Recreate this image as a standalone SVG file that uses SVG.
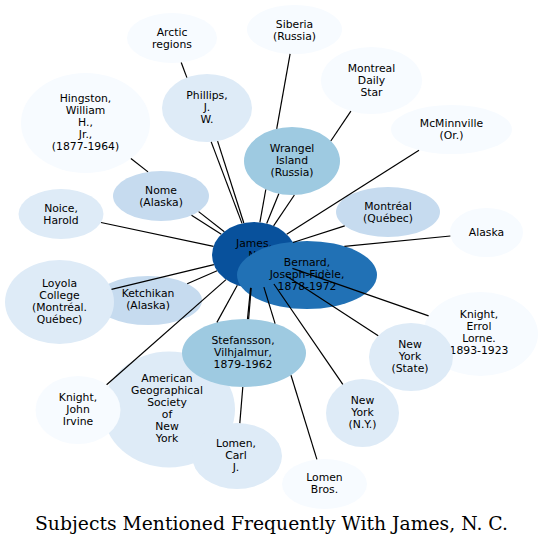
<svg xmlns="http://www.w3.org/2000/svg" width="543" height="545" viewBox="0 0 543 545">
<style>
.n text{font-family:"DejaVu Sans",sans-serif;font-size:10.8px;fill:#000;text-anchor:middle}
.c0{fill:#f7fbff}.c1{fill:#deebf7}.c2{fill:#c6dbef}.c3{fill:#9ecae1}.c4{fill:#2171b5}.c5{fill:#08519c}
#edges line{stroke:#000;stroke-width:1.2;fill:none}
.title{font-family:"DejaVu Serif",serif;font-size:18.7px;fill:#000;text-anchor:middle}
</style>
<rect width="543" height="545" fill="#fff"/>
<g class="n" id="arctic"><ellipse class="c0" cx="172" cy="38" rx="45" ry="25"/><text x="172" y="36">Arctic</text><text x="172" y="48">regions</text></g>
<g class="n" id="siberia"><ellipse class="c0" cx="294.5" cy="29.5" rx="47.5" ry="24.5"/><text x="294.5" y="27.5">Siberia</text><text x="294.5" y="39.5">(Russia)</text></g>
<g class="n" id="mds"><ellipse class="c0" cx="371.5" cy="80.5" rx="50.5" ry="33.5"/><text x="371.5" y="72">Montreal</text><text x="371.5" y="84">Daily</text><text x="371.5" y="96">Star</text></g>
<g class="n" id="mcminnville"><ellipse class="c0" cx="451.5" cy="129.5" rx="60.5" ry="24.5"/><text x="451.5" y="127">McMinnville</text><text x="451.5" y="139">(Or.)</text></g>
<g class="n" id="hingston"><ellipse class="c0" cx="85.5" cy="123" rx="64.5" ry="50"/><text x="85.5" y="102">Hingston,</text><text x="85.5" y="114">William</text><text x="85.5" y="126">H.,</text><text x="85.5" y="138">Jr.,</text><text x="85.5" y="150">(1877-1964)</text></g>
<g class="n" id="phillips"><ellipse class="c1" cx="207" cy="108" rx="45" ry="34"/><text x="207" y="99">Phillips,</text><text x="207" y="111">J.</text><text x="207" y="123">W.</text></g>
<g class="n" id="wrangel"><ellipse class="c3" cx="292" cy="161" rx="48" ry="34"/><text x="292" y="152">Wrangel</text><text x="292" y="164">Island</text><text x="292" y="176">(Russia)</text></g>
<g class="n" id="nome"><ellipse class="c2" cx="161" cy="196" rx="48" ry="25"/><text x="161" y="193.5">Nome</text><text x="161" y="205.5">(Alaska)</text></g>
<g class="n" id="noice"><ellipse class="c1" cx="61" cy="214" rx="42.5" ry="25"/><text x="61" y="211.5">Noice,</text><text x="61" y="223.5">Harold</text></g>
<g class="n" id="montreal"><ellipse class="c2" cx="388" cy="212" rx="52" ry="25"/><text x="388" y="209.5">Montréal</text><text x="388" y="221.5">(Québec)</text></g>
<g class="n" id="alaska"><ellipse class="c0" cx="486.5" cy="232.5" rx="36.5" ry="24.5"/><text x="486.5" y="236">Alaska</text></g>
<g class="n" id="ketchikan"><ellipse class="c2" cx="148" cy="300.5" rx="54" ry="24.5"/><text x="148" y="297">Ketchikan</text><text x="148" y="309">(Alaska)</text></g>
<g class="n" id="loyola"><ellipse class="c1" cx="59.5" cy="302" rx="54.5" ry="42"/><text x="59.5" y="287">Loyola</text><text x="59.5" y="299">College</text><text x="59.5" y="311">(Montréal.</text><text x="59.5" y="323">Québec)</text></g>
<g class="n" id="ags"><ellipse class="c1" cx="169" cy="409.5" rx="66" ry="58"/><text x="167" y="382">American</text><text x="167" y="394">Geographical</text><text x="167" y="406">Society</text><text x="167" y="418">of</text><text x="167" y="430">New</text><text x="167" y="442">York</text></g>
<g class="n" id="knight-john"><ellipse class="c0" cx="78" cy="410" rx="42.5" ry="34"/><text x="78" y="401">Knight,</text><text x="78" y="413">John</text><text x="78" y="425">Irvine</text></g>
<g class="n" id="lomen-carl"><ellipse class="c1" cx="237" cy="456" rx="45" ry="33"/><text x="236" y="447">Lomen,</text><text x="236" y="459">Carl</text><text x="236" y="471">J.</text></g>
<g class="n" id="stefansson"><ellipse class="c3" cx="244" cy="353" rx="62" ry="34"/><text x="243" y="344">Stefansson,</text><text x="243" y="356">Vilhjalmur,</text><text x="243" y="368">1879-1962</text></g>
<g class="n" id="lomen-bros"><ellipse class="c0" cx="324.5" cy="484" rx="42.5" ry="25"/><text x="324.5" y="481">Lomen</text><text x="324.5" y="493">Bros.</text></g>
<g class="n" id="ny-ny"><ellipse class="c1" cx="362.5" cy="413" rx="36.5" ry="34"/><text x="362.5" y="404">New</text><text x="362.5" y="416">York</text><text x="362.5" y="428">(N.Y.)</text></g>
<g class="n" id="knight-errol"><ellipse class="c0" cx="480.5" cy="334" rx="57.5" ry="42"/><text x="479" y="318">Knight,</text><text x="479" y="330">Errol</text><text x="479" y="342">Lorne.</text><text x="479" y="354">1893-1923</text></g>
<g class="n" id="ny-state"><ellipse class="c1" cx="411" cy="357" rx="42" ry="34"/><text x="410" y="348">New</text><text x="410" y="360">York</text><text x="410" y="372">(State)</text></g>
<g class="n" id="james"><ellipse class="c5" cx="254" cy="255" rx="42" ry="33"/><text x="254" y="247">James,</text><text x="254" y="259">N.</text><text x="254" y="271">C.</text></g>
<g class="n" id="bernard"><ellipse class="c4" cx="307" cy="275" rx="70" ry="34"/><text x="307" y="266">Bernard,</text><text x="307" y="278">Joseph-Fidèle,</text><text x="307" y="290">1878-1972</text></g>
<g id="edges">
<line x1="181.2" y1="62.5" x2="186.9" y2="77.6"/>
<line x1="211.2" y1="141.9" x2="242.0" y2="223.4"/>
<line x1="217.6" y1="141.1" x2="243.8" y2="223.0"/>
<line x1="290.1" y1="53.9" x2="276.7" y2="128.8"/>
<line x1="265.8" y1="189.5" x2="259.9" y2="222.3"/>
<line x1="350.9" y1="111.1" x2="330.8" y2="141.0"/>
<line x1="294.4" y1="195.0" x2="273.6" y2="225.8"/>
<line x1="278.8" y1="193.7" x2="266.7" y2="223.5"/>
<line x1="419.0" y1="150.2" x2="286.7" y2="234.2"/>
<line x1="130.9" y1="158.5" x2="148.0" y2="171.9"/>
<line x1="198.6" y1="211.6" x2="224.3" y2="231.7"/>
<line x1="191.5" y1="215.3" x2="221.3" y2="234.3"/>
<line x1="101.0" y1="222.5" x2="213.5" y2="246.4"/>
<line x1="344.7" y1="225.9" x2="292.9" y2="242.5"/>
<line x1="450.4" y1="236.0" x2="344.4" y2="246.3"/>
<line x1="111.5" y1="289.4" x2="213.9" y2="264.7"/>
<line x1="187.2" y1="283.7" x2="217.1" y2="270.8"/>
<line x1="106.6" y1="384.8" x2="226.0" y2="279.6"/>
<line x1="237.3" y1="285.3" x2="216.9" y2="322.4"/>
<line x1="250.6" y1="287.9" x2="247.5" y2="319.1"/>
<line x1="251.2" y1="287.9" x2="248.6" y2="319.1"/>
<line x1="242.8" y1="387.0" x2="239.8" y2="423.1"/>
<line x1="263.9" y1="287.1" x2="275.1" y2="323.6"/>
<line x1="291.0" y1="375.2" x2="316.9" y2="459.4"/>
<line x1="273.9" y1="284.0" x2="342.8" y2="384.4"/>
<line x1="286.4" y1="276.0" x2="378.2" y2="335.7"/>
<line x1="292.4" y1="268.4" x2="428.6" y2="315.9"/>
</g>
<text class="title" x="271.5" y="530" textLength="473" lengthAdjust="spacingAndGlyphs">Subjects Mentioned Frequently With James, N. C.</text>
</svg>
